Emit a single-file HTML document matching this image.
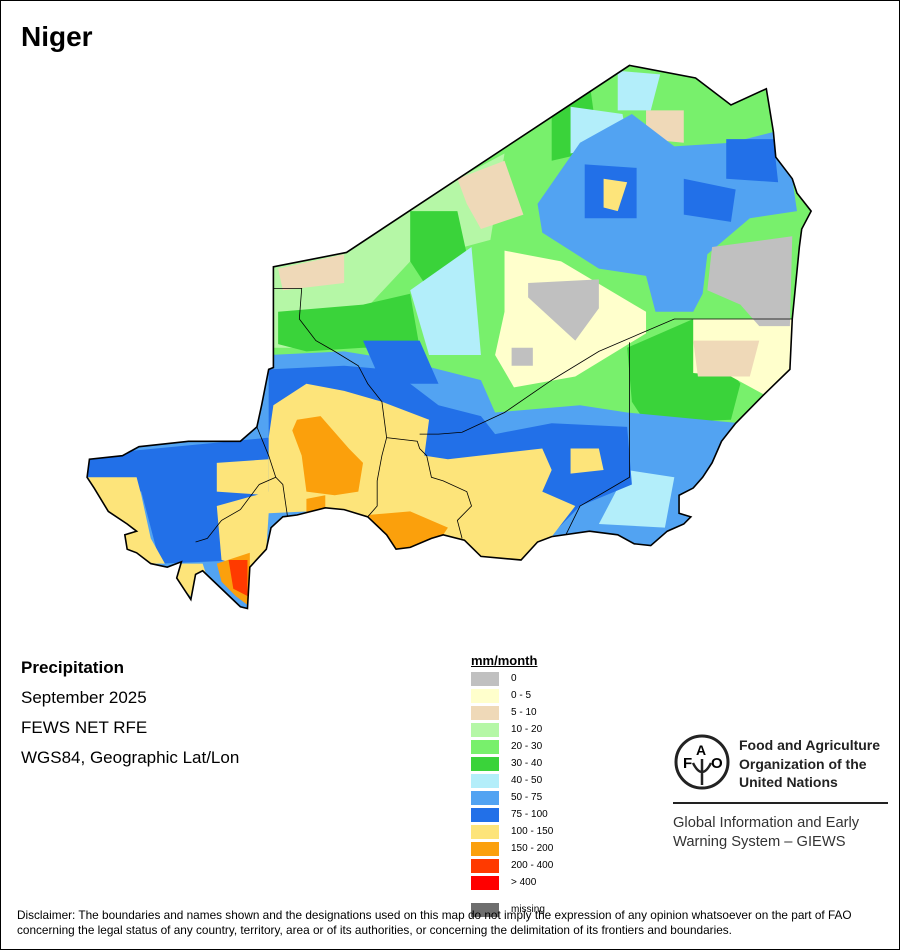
<!DOCTYPE html>
<html><head><meta charset="utf-8"><style>
body{margin:0;background:#fff}
#wrap{position:relative;width:898px;height:948px;border:1px solid #000;overflow:hidden;font-family:"Liberation Sans",sans-serif;background:#fff}
.t{position:absolute;white-space:nowrap;color:#000}
</style></head><body>
<div id="wrap">
<div class="t" style="left:20px;top:20px;font-size:28px;font-weight:bold">Niger</div>
<svg id="map" width="900" height="950" style="position:absolute;left:-1px;top:-1px">
<defs><clipPath id="cl"><polygon id="clp"/></clipPath></defs>
<g transform="translate(80,60) scale(0.4717,0.3597)">
<g clip-path="url(#cl)" id="layers"></g>
<g id="bounds" fill="none" stroke="#000" stroke-width="0.8"></g>
<polygon id="outline" fill="none" stroke="#000" stroke-width="1.6" vector-effect="non-scaling-stroke"/>
</g>
</svg>
<div class="t" style="left:20px;top:657px;font-size:17px;font-weight:bold">Precipitation</div>
<div class="t" style="left:20px;top:687px;font-size:17px">September 2025</div>
<div class="t" style="left:20px;top:717px;font-size:17px">FEWS NET RFE</div>
<div class="t" style="left:20px;top:747px;font-size:17px">WGS84, Geographic Lat/Lon</div>
<div class="t" style="left:470px;top:652px;font-size:13px;font-weight:bold;text-decoration:underline">mm/month</div>
<div id="legend"></div>
<svg width="60" height="60" style="position:absolute;left:672px;top:732px">
<circle cx="29" cy="29" r="26" fill="none" stroke="#222" stroke-width="3"/>
<text x="10" y="35" font-size="15" font-weight="bold" font-family="Liberation Sans">F</text>
<text x="23" y="22" font-size="14" font-weight="bold" font-family="Liberation Sans">A</text>
<text x="38" y="35" font-size="15" font-weight="bold" font-family="Liberation Sans">O</text>
<path d="M29 26 V52 M20 30 Q29 48 38 30" stroke="#222" stroke-width="2.5" fill="none"/>
</svg>
<div class="t" style="left:738px;top:735px;font-size:14px;font-weight:bold;line-height:18.5px;color:#222">Food and Agriculture<br>Organization of the<br>United Nations</div>
<div style="position:absolute;left:672px;top:801px;width:215px;height:2px;background:#222"></div>
<div class="t" style="left:672px;top:813px;font-size:14.7px;line-height:19px;color:#333">Global Information and Early<br>Warning System – GIEWS</div>
<div class="t" style="left:16px;top:907px;font-size:11.8px;line-height:14.5px">Disclaimer: The boundaries and names shown and the designations used on this map do not imply the expression of any opinion whatsoever on the part of FAO<br>concerning the legal status of any country, territory, area or of its authorities, or concerning the delimitation of its frontiers and boundaries.</div>
</div>
<script>
const legendLabels=["0","0 - 5","5 - 10","10 - 20","20 - 30","30 - 40","40 - 50","50 - 75","75 - 100","100 - 150","150 - 200","200 - 400","> 400"];
const legendColors=["#c0c0c0","#ffffcc","#efd9b8","#b5f7a6","#78f06c","#3ad33a","#b3eefa","#52a3f2","#2270e8","#fde47a","#fba00c","#ff3a00","#ff0000"];
const lg=document.getElementById('legend');
legendLabels.forEach((l,i)=>{
  const sw=document.createElement('div');
  
  
  sw.style.cssText=`position:absolute;left:470px;top:${671+i*17}px;width:28px;height:14px;background:${legendColors[i]}`;
  lg.appendChild(sw);
  const tx=document.createElement('div');
  
  
  tx.className='t';
  tx.style.cssText=`left:510px;top:${672+i*17}px;font-size:10px`;
  tx.textContent=l;
  lg.appendChild(tx);
});
const ms=document.createElement('div');


ms.style.cssText='position:absolute;left:470px;top:902px;width:28px;height:14px;background:#6e6e6e';
lg.appendChild(ms);
const mt=document.createElement('div');


mt.className='t';mt.style.cssText='left:510px;top:903px;font-size:10px';mt.textContent='missing';
lg.appendChild(mt);

const outline="1165,15 1305,50 1380,125 1455,80 1470,200 1475,270 1510,330 1520,370 1550,420 1530,470 1525,520 1510,720 1505,860 1450,930 1390,1010 1360,1060 1340,1120 1320,1160 1300,1190 1270,1210 1270,1260 1295,1270 1280,1290 1245,1310 1210,1350 1175,1345 1140,1320 1080,1310 1000,1325 970,1340 935,1390 850,1380 815,1335 770,1320 745,1330 700,1355 670,1360 650,1320 610,1270 560,1250 520,1245 460,1265 430,1270 405,1300 395,1360 360,1410 355,1525 340,1520 300,1470 260,1420 245,1430 235,1500 215,1460 205,1440 215,1395 185,1410 150,1400 120,1370 100,1360 95,1320 120,1310 100,1290 60,1255 30,1190 15,1160 20,1110 90,1100 125,1075 230,1060 340,1060 375,1020 385,960 400,860 410,855 410,575 565,535";
document.getElementById('clp').setAttribute('points',outline);
document.getElementById('outline').setAttribute('points',outline);
const regions=[
["#78f06c","0,0 1600,0 1600,1600 0,1600"],
["#b5f7a6","410,575 565,535 800,330 900,260 870,500 700,560 600,700 450,800 410,800"],
["#efd9b8","420,580 560,540 560,620 430,640"],
["#efd9b8","800,330 900,280 940,430 850,470 820,400"],
["#efd9b8","1200,140 1280,140 1280,230 1200,220"],
["#3ad33a","700,420 800,420 830,600 740,640 700,560"],
["#3ad33a","1000,80 1080,60 1100,250 1000,280"],
["#3ad33a","1160,800 1300,720 1400,900 1380,1000 1200,1010 1170,950"],
["#3ad33a","420,700 600,680 700,650 720,800 600,800 480,810 420,790"],
["#b3eefa","1040,130 1150,150 1160,220 1040,260"],
["#b3eefa","700,640 830,520 850,820 740,820"],
["#b3eefa","1140,30 1230,40 1210,140 1140,140"],
["#52a3f2","970,400 1060,230 1170,150 1260,240 1380,230 1470,200 1510,330 1520,420 1420,440 1330,540 1320,650 1300,700 1220,700 1200,600 1100,580 1040,530 980,480"],
["#2270e8","1070,290 1180,300 1180,440 1070,440"],
["#2270e8","1370,220 1470,220 1480,340 1370,330"],
["#2270e8","1280,330 1390,360 1380,450 1280,430"],
["#fde47a","1110,330 1160,340 1140,420 1110,410"],
["#ffffcc","900,530 1020,560 1200,700 1200,760 1050,880 920,910 880,820 900,700"],
["#ffffcc","1300,720 1510,720 1505,860 1450,930 1380,880 1300,870"],
["#efd9b8","1300,780 1440,780 1420,880 1310,880"],
["#c0c0c0","1340,520 1510,490 1505,740 1440,740 1400,680 1330,640"],
["#c0c0c0","950,620 1100,610 1100,690 1050,780 950,660"],
["#c0c0c0","915,800 960,800 960,850 915,850"],
["#52a3f2","0,820 400,820 560,810 700,840 850,890 880,980 1060,960 1160,980 1400,1010 1600,1000 1600,1600 0,1600"],
["#b3eefa","1160,1140 1260,1160 1240,1300 1100,1290"],
["#2270e8","400,860 560,850 650,860 700,900 760,960 850,990 880,1040 1000,1010 1160,1020 1170,1180 1060,1240 1000,1320 950,1300 700,1200 400,1100"],
["#2270e8","0,1100 400,1050 400,1250 350,1390 170,1400 130,1200 0,1160"],
["#2270e8","600,780 720,780 760,900 640,900"],
["#fde47a","410,960 480,900 560,920 640,950 740,1000 730,1100 780,1110 980,1080 1000,1140 980,1200 1050,1240 1000,1325 970,1340 935,1390 850,1380 670,1360 560,1250 400,1260 395,1360 360,1410 300,1390 290,1240 400,1200 400,1050"],
["#fde47a","290,1120 400,1110 400,1210 290,1200"],
["#fde47a","0,1160 120,1160 130,1210 150,1330 180,1400 140,1400 95,1360 95,1320 60,1255 0,1190"],
["#fde47a","200,1400 260,1400 270,1440 240,1500 200,1440"],
["#fde47a","1040,1080 1100,1080 1110,1140 1040,1150"],
["#fba00c","460,1000 510,990 570,1080 600,1120 590,1200 540,1210 480,1200 470,1100 450,1030"],
["#fba00c","480,1220 520,1210 520,1260 480,1260"],
["#fba00c","610,1265 700,1255 780,1300 770,1320 700,1355 670,1360 640,1310"],
["#fba00c","290,1400 360,1370 360,1520 330,1490 300,1450"],
["#ff3a00","315,1390 355,1390 355,1490 325,1470"]
];
const L=document.getElementById('layers');
regions.forEach((r,i)=>{
  const p=document.createElementNS('http://www.w3.org/2000/svg','polygon');
  
  
  p.setAttribute('fill',r[0]);p.setAttribute('points',r[1]);
  L.appendChild(p);
});
const bounds=["410,635 470,635 465,720 500,780 540,810 590,850 610,900 640,950 645,1000 650,1050 715,1060 720,1080 735,1100 745,1160 770,1170 820,1200 830,1240 800,1280 810,1330",
"650,1050 640,1100 630,1170 630,1240 610,1270",
"720,1040 760,1040 810,1035 900,980 1000,890 1100,810 1260,720 1510,720",
"1165,785 1165,1160 1100,1210 1060,1240 1030,1320",
"375,1020 400,1100 415,1160 380,1180 340,1250 300,1280 270,1330 245,1340",
"415,1160 430,1180 440,1270"];
const B=document.getElementById('bounds');
bounds.forEach((b,i)=>{
  const p=document.createElementNS('http://www.w3.org/2000/svg','polyline');
  
  
  p.setAttribute('points',b);p.setAttribute('vector-effect','non-scaling-stroke');
  B.appendChild(p);
});
</script>
</body></html>
